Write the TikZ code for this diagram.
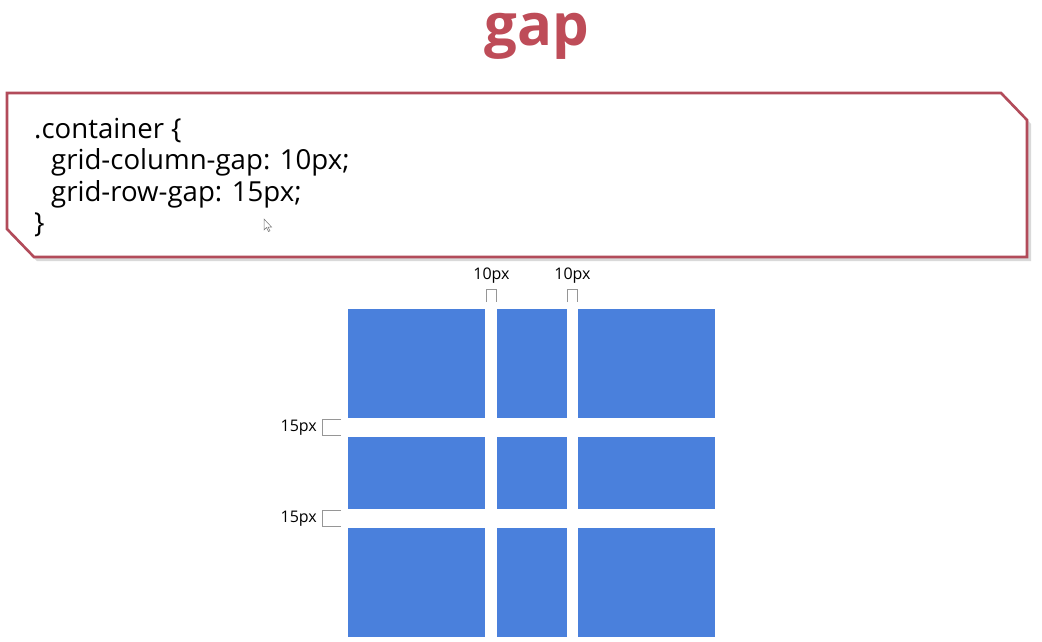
\documentclass[tikz,border=0pt]{standalone}
\usepackage{fontspec}
\setmainfont{Open Sans}
\definecolor{titlered}{RGB}{190,76,88}
\definecolor{boxred}{RGB}{178,75,90}
\definecolor{cellblue}{RGB}{74,128,220}
\definecolor{guide}{RGB}{150,150,150}
\tikzset{
  cell/.style={fill=cellblue, draw=none},
  codeline/.style={anchor=base west, inner sep=0pt, font=\fontsize{27.6}{30}\selectfont},
  gaplabel/.style={inner sep=0pt, font=\fontsize{16}{18}\selectfont},
  bracket/.style={draw=guide, line width=0.8pt},
}
\begin{document}
\begin{tikzpicture}[x=1pt,y=-1pt]
\useasboundingbox (0,0) rectangle (1042,642);
\fill[white] (0,0) rectangle (1042,642);
% title
\node[text=titlered, font=\fontsize{58}{62}\bfseries\selectfont, inner sep=0pt, anchor=base] (title) at (537,46) {gap};
% code box shadow and box
\fill[black!15] (10,96) -- (1006,96) -- (1031,124) -- (1031,261) -- (37,261) -- (10,234) -- cycle;
\draw[boxred, line width=2.6pt, fill=white] (7,93) -- (1001,93) -- (1027,120) -- (1027,257) -- (34,257) -- (7,229) -- cycle;
\node[codeline] (l1) at (34,138) {.container \{};
\node[codeline] (l2) at (51,169.5) {grid-column-gap: 10px;};
\node[codeline] (l3) at (51,201) {grid-row-gap: 15px;};
\node[codeline] (l4) at (34,232.5) {\}};
% cursor
\draw[black!55, line width=0.5pt, fill=white] (264,219) -- (264,230) -- (266.5,227.5) -- (268.5,231.5) -- (270,230.8) -- (268,227) -- (271.5,227) -- cycle;
% grid cells
\fill[cell] (348,309) rectangle (485,418);
\fill[cell] (497,309) rectangle (567,418);
\fill[cell] (578,309) rectangle (715,418);
\fill[cell] (348,437) rectangle (485,509);
\fill[cell] (497,437) rectangle (567,509);
\fill[cell] (578,437) rectangle (715,509);
\fill[cell] (348,528) rectangle (485,637);
\fill[cell] (497,528) rectangle (567,637);
\fill[cell] (578,528) rectangle (715,637);
% column gap markers
\node[gaplabel] (c1) at (491.5,275.5) {10px};
\node[gaplabel] (c2) at (572.5,275.5) {10px};
\draw[bracket] (486.5,302) -- (486.5,289.5) -- (496.5,289.5) -- (496.5,302);
\draw[bracket] (567.5,302) -- (567.5,289.5) -- (577.5,289.5) -- (577.5,302);
% row gap markers
\node[gaplabel, anchor=east] (r1) at (317,428) {15px};
\node[gaplabel, anchor=east] (r2) at (317,519) {15px};
\draw[bracket] (341,419.5) -- (322,419.5) -- (322,435.5) -- (341,435.5);
\draw[bracket] (341,510.5) -- (322,510.5) -- (322,526.5) -- (341,526.5);
\end{tikzpicture}
\end{document}
